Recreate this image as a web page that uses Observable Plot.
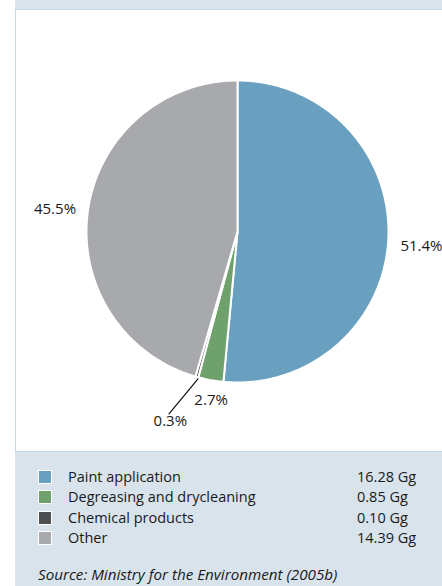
<!DOCTYPE html>
<html>
<head>
<meta charset="utf-8">
<script src="https://cdn.jsdelivr.net/npm/d3@7"></script>
<script src="https://cdn.jsdelivr.net/npm/@observablehq/plot@0.6"></script>
<style>
  html, body { margin: 0; padding: 0; background: #ffffff; width: 442px; height: 586px; overflow: hidden; }
  body { font-family: "Open Sans", "Noto Sans", sans-serif; color: #1a1a1a; }
  #fig { position: absolute; left: 15px; top: 0; width: 440px; height: 586px; background: #d9e3ec; }
  #panel { position: absolute; left: 0; top: 9px; width: 440px; height: 441px; background: #fff; border: 1px solid #c6d6e4; }
  #panel svg { position: absolute; left: 0; top: 0; }
  #legend { position: absolute; left: 23px; top: 467px; width: 400px; font-size: 14.5px; }
  .row { position: relative; height: 20.4px; line-height: 20.4px; }
  .sw { position: absolute; left: 0; top: 3px; width: 14px; height: 14px; border: 1px solid #fff; box-sizing: border-box; }
  .lab { position: absolute; left: 30px; top: 0; white-space: nowrap; }
  .val { position: absolute; left: 319px; top: 0; white-space: nowrap; }
  #source { position: absolute; left: 23px; top: 564px; font-size: 15.2px; font-style: italic; white-space: nowrap; }
</style>
</head>
<body>
<div id="fig">
  <div id="panel"></div>
  <div id="legend"></div>
  <div id="source">Source: Ministry for the Environment (2005b)</div>
</div>
<script>
// ---- data ----
const categories = ["Paint application", "Degreasing and drycleaning", "Chemical products", "Other"];
const valuesGg = [16.28, 0.85, 0.10, 14.39];
const percentLabels = ["51.4%", "2.7%", "0.3%", "45.5%"];
const valueLabels = ["16.28 Gg", "0.85 Gg", "0.10 Gg", "14.39 Gg"];
const colors = ["#69a0bf", "#6ea16c", "#4d4e50", "#a8a9ad"];

// ---- build pie geometry from the values ----
const total = d3.sum(valuesGg);
let acc = 0;
const slices = valuesGg.map((v, i) => {
  const a0 = acc / total * 2 * Math.PI;
  acc += v;
  const a1 = acc / total * 2 * Math.PI;
  return {i, cat: categories[i], a0, a1, mid: (a0 + a1) / 2};
});
// angle measured clockwise from 12 o'clock; unit circle coordinates (y up)
const px = (a, r) => r * Math.sin(a);
const py = (a, r) => r * Math.cos(a);
const outline = [];
for (const s of slices) {
  outline.push({cat: s.cat, x: 0, y: 0});
  const n = Math.max(2, Math.ceil((s.a1 - s.a0) / (Math.PI / 180)));
  for (let k = 0; k <= n; ++k) {
    const a = s.a0 + (s.a1 - s.a0) * k / n;
    outline.push({cat: s.cat, x: px(a, 1), y: py(a, 1)});
  }
}

// label placement (per-slice style)
const labelStyle = [
  {r: 1.08, anchor: "start", da: 0, dx: 0, dy: 7},
  {r: 1.1, anchor: "middle", da: 0, dx: 3, dy: 5},
  {r: 1.36, anchor: "middle", da: 0.087, dx: 5, dy: -3},
  {r: 1.08, anchor: "end", da: 0, dx: 0, dy: 1}
];
const labels = slices.map((s, i) => ({
  text: percentLabels[i],
  x: px(s.mid + labelStyle[i].da, labelStyle[i].r),
  y: py(s.mid + labelStyle[i].da, labelStyle[i].r)
}));
const s3 = slices[2];
const leader = [
  {x: px(s3.mid - 0.01, 1.01), y: py(s3.mid - 0.01, 1.01)},
  {x: px(s3.mid + 0.087, 1.29), y: py(s3.mid + 0.087, 1.29)}
];

const cx = 221, cy = 221, R = 151;
const chart = Plot.plot({
  width: 427,
  height: 441,
  margin: 0,
  style: {background: "transparent", fontFamily: "'Open Sans', sans-serif", fontSize: "15px", color: "#1a1a1a"},
  x: {domain: [-1, 1], range: [cx - R, cx + R], axis: null},
  y: {domain: [-1, 1], range: [cy + R, cy - R], axis: null},
  color: {domain: categories, range: colors},
  marks: [
    Plot.line(outline, {x: "x", y: "y", z: "cat", fill: "cat", stroke: "#fff", strokeWidth: 2, curve: "linear-closed"}),
    Plot.line(leader, {x: "x", y: "y", stroke: "#111", strokeWidth: 1.2}),
    ...labels.map((d, i) => Plot.text([d], {
      x: "x", y: "y", text: "text",
      textAnchor: labelStyle[i].anchor, dx: labelStyle[i].dx, dy: labelStyle[i].dy,
      fill: "#1a1a1a"
    }))
  ]
});
document.getElementById("panel").appendChild(chart);

// legend
const legend = document.getElementById("legend");
categories.forEach((c, i) => {
  const row = document.createElement("div");
  row.className = "row";
  row.innerHTML = `<span class="sw" style="background:${colors[i]}"></span><span class="lab">${c}</span><span class="val">${valueLabels[i]}</span>`;
  legend.appendChild(row);
});
</script>
</body>
</html>
